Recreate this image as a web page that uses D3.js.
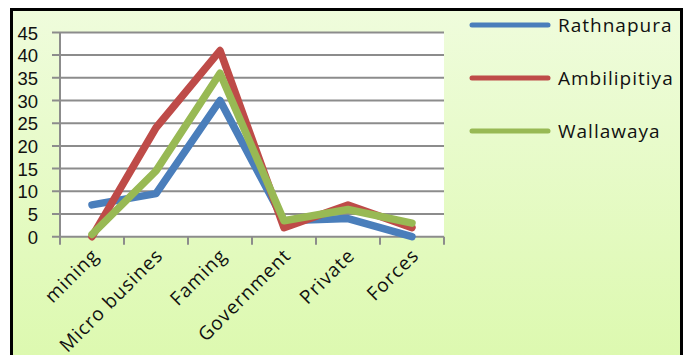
<!DOCTYPE html>
<html>
<head>
<meta charset="utf-8">
<script src="https://cdn.jsdelivr.net/npm/d3@7"></script>
<style>
  html, body { margin: 0; padding: 0; background: #fff; }
  svg { display: block; }
  text { font-family: "Open Sans", "Noto Sans", sans-serif; fill: #111; }
</style>
</head>
<body>
<svg id="chart" width="688" height="355"></svg>
<script>
// chart data
var categories = ['mining', 'Micro busines', 'Faming', 'Government', 'Private', 'Forces'];
var seriesNames = ['Rathnapura', 'Ambilipitiya', 'Wallawaya'];
var rathnapura = [7, 9.5, 30, 3.5, 4, 0];
var ambilipitiya = [0, 24, 41, 2, 7, 2];
var wallawaya = [0.5, 14.5, 36, 3.5, 6, 3];
var yTicks = [0, 5, 10, 15, 20, 25, 30, 35, 40, 45];
var colors = ['#4a7ebb', '#be4b48', '#98b954'];

var series = [rathnapura, ambilipitiya, wallawaya];

var svg = d3.select('#chart');

// frame background
var defs = svg.append('defs');
var grad = defs.append('linearGradient')
    .attr('id', 'bg').attr('x1', 0).attr('y1', 0).attr('x2', 0).attr('y2', 1);
grad.append('stop').attr('offset', 0).attr('stop-color', '#effcdc');
grad.append('stop').attr('offset', 1).attr('stop-color', '#dcf9ae');

svg.append('rect')
    .attr('x', 11.5).attr('y', 9.5)
    .attr('width', 670).attr('height', 360)
    .style('fill', 'url(#bg)')
    .style('stroke', '#000')
    .style('stroke-width', 3);

var plot = { left: 60, right: 444, top: 32.4, bottom: 236.7 };

var x = d3.scaleBand()
    .domain(categories)
    .range([plot.left, plot.right]);

var y = d3.scaleLinear()
    .domain([0, 45])
    .range([plot.bottom, plot.top]);

// plot area
svg.append('rect')
    .attr('x', plot.left).attr('y', plot.top)
    .attr('width', plot.right - plot.left)
    .attr('height', plot.bottom - plot.top)
    .style('fill', '#fff');

// gridlines
svg.append('g')
    .selectAll('line')
    .data(yTicks)
    .enter().append('line')
    .attr('x1', plot.left - 8).attr('x2', plot.right)
    .attr('y1', function (d) { return y(d); })
    .attr('y2', function (d) { return y(d); })
    .style('stroke', '#8c8c8c')
    .style('stroke-width', 2);

// y axis
var yAxis = svg.append('g')
    .attr('transform', 'translate(' + plot.left + ',0)')
    .call(d3.axisLeft(y).tickValues(yTicks).tickSize(0).tickPadding(22));
yAxis.select('.domain').remove();
yAxis.selectAll('text')
    .style('font-family', '"Liberation Sans", sans-serif')
    .style('font-size', '18.5px')
    .style('fill', '#111')
    .attr('dy', '0.36em');

svg.append('line')
    .attr('x1', plot.left).attr('x2', plot.left)
    .attr('y1', plot.top).attr('y2', plot.bottom)
    .style('stroke', '#8c8c8c').style('stroke-width', 2);

// x axis ticks at category boundaries
var bounds = categories.map(function (c) { return x(c); }).concat([plot.right]);
svg.append('g')
    .selectAll('line')
    .data(bounds)
    .enter().append('line')
    .attr('x1', function (d) { return d; })
    .attr('x2', function (d) { return d; })
    .attr('y1', plot.bottom).attr('y2', plot.bottom + 8)
    .style('stroke', '#8c8c8c').style('stroke-width', 2);

// x labels
svg.append('g')
    .selectAll('text')
    .data(categories)
    .enter().append('text')
    .attr('transform', function (d) {
        return 'translate(' + (x(d) + x.bandwidth() / 2 + 8) + ',' + (plot.bottom + 20) + ') rotate(-45)';
    })
    .attr('text-anchor', 'end')
    .style('font-size', '19px')
    .style('letter-spacing', '1px')
    .text(function (d) { return d; });

// series lines
var line = d3.line()
    .x(function (d, i) { return x(categories[i]) + x.bandwidth() / 2; })
    .y(function (d) { return y(d); });

svg.append('g')
    .selectAll('path')
    .data(series)
    .enter().append('path')
    .attr('d', line)
    .style('fill', 'none')
    .style('stroke', function (d, i) { return colors[i]; })
    .style('stroke-width', 7.5)
    .style('stroke-linejoin', 'round')
    .style('stroke-linecap', 'round');

// legend
var legendY = d3.scalePoint()
    .domain(seriesNames)
    .range([25, 131]);

var legend = svg.append('g')
    .selectAll('g')
    .data(seriesNames)
    .enter().append('g')
    .attr('transform', function (d) { return 'translate(0,' + legendY(d) + ')'; });

legend.append('line')
    .attr('x1', 472).attr('x2', 548)
    .style('stroke', function (d, i) { return colors[i]; })
    .style('stroke-width', 5)
    .style('stroke-linecap', 'round');

legend.append('text')
    .attr('x', 558)
    .attr('dy', '0.36em')
    .style('font-size', '19px')
    .style('letter-spacing', '1px')
    .text(function (d) { return d; });
</script>
</body>
</html>
